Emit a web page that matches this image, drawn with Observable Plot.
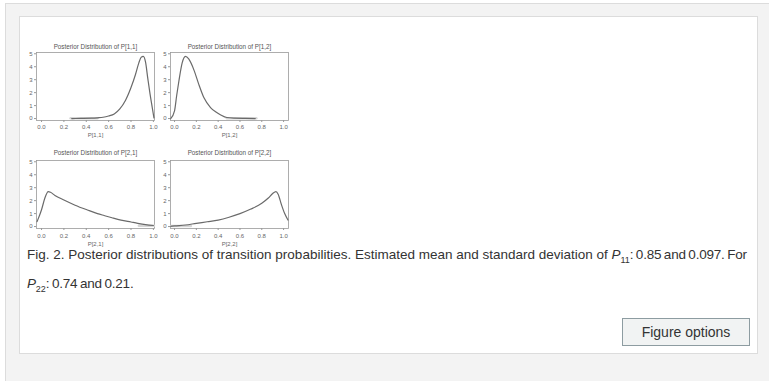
<!DOCTYPE html>
<html><head><meta charset="utf-8">
<script src="https://cdn.jsdelivr.net/npm/d3@7"></script>
<script src="https://cdn.jsdelivr.net/npm/@observablehq/plot@0.6"></script>
<style>
html,body{margin:0;padding:0;background:#fff;width:769px;height:381px;overflow:hidden;font-family:"Liberation Sans",Arial,sans-serif;}
#outer{position:absolute;left:5px;top:3px;width:800px;height:400px;background:#f3f3f3;border:1px solid #dcdcdc;}
#box{position:absolute;left:19px;top:16px;width:737px;height:336px;background:#fff;border:1px solid #dcdcdc;}
.panel{position:absolute;}
#caption{position:absolute;left:27px;top:240px;width:740px;font-size:13.5px;line-height:29px;color:#333;white-space:nowrap;}
#caption .m{letter-spacing:-0.2px;word-spacing:-1px;}
#caption sub{font-size:9px;vertical-align:-4px;line-height:0;letter-spacing:0;}
#btn{position:absolute;left:622px;top:318px;width:126px;height:26px;background:#f1f3f3;border:1px solid #8d9ca1;font-size:14px;color:#333;text-align:center;line-height:26px;}
</style></head><body>
<div id="outer"></div>
<div id="box"></div>
<div id="caption">Fig. 2. Posterior distributions of transition probabilities. Estimated mean and standard deviation of <span class="m"><i>P</i><sub>11</sub>: 0.85 and 0.097. For</span><br><span class="m"><i>P</i><sub>22</sub>: 0.74 and 0.21.</span></div>
<div id="btn">Figure options</div>
<script>
// Panel titles and axis labels
const titles = ["Posterior Distribution of P[1,1]", "Posterior Distribution of P[1,2]", "Posterior Distribution of P[2,1]", "Posterior Distribution of P[2,2]"];
const xLabels = ["P[1,1]", "P[1,2]", "P[2,1]", "P[2,2]"];
const xTicks = [0, 0.2, 0.4, 0.6, 0.8, 1.0];
const yTicks = [0, 1, 2, 3, 4, 5];

// Density curves
const p11X = [0.27, 0.35, 0.45, 0.5, 0.55, 0.6, 0.65, 0.7, 0.75, 0.8, 0.84, 0.87, 0.89, 0.91, 0.93, 0.95, 0.97, 0.99, 1.005];
const p11Y = [0.0, 0.01, 0.03, 0.06, 0.1, 0.2, 0.36, 0.75, 1.4, 2.4, 3.4, 4.3, 4.72, 4.8, 4.35, 3.1, 1.9, 0.85, 0.05];
const p11FaintX = [0.26, 0.5];
const p11FaintY = [0.02, 0.02];

const p12X = [-0.035, 0.0, 0.02, 0.04, 0.07, 0.1, 0.13, 0.18, 0.22, 0.27, 0.33, 0.38, 0.42, 0.48, 0.55, 0.65, 0.74];
const p12Y = [0.0, 0.6, 1.8, 2.9, 4.3, 4.8, 4.6, 3.7, 2.7, 1.6, 0.85, 0.5, 0.3, 0.08, 0.03, 0.01, 0.0];
const p12FaintX = [0.48, 0.75];
const p12FaintY = [0.02, 0.02];

const p21X = [-0.04, 0.0, 0.03, 0.06, 0.08, 0.12, 0.2, 0.3, 0.41, 0.5, 0.56, 0.63, 0.71, 0.8, 0.86, 0.93, 1.0];
const p21Y = [0.38, 1.3, 2.2, 2.7, 2.65, 2.4, 2.05, 1.65, 1.28, 1.0, 0.85, 0.68, 0.5, 0.35, 0.25, 0.15, 0.08];
const p21FaintX = [0.87, 1.005];
const p21FaintY = [0.06, 0.06];

const p22X = [-0.035, 0.0, 0.1, 0.2, 0.3, 0.4, 0.5, 0.6, 0.7, 0.8, 0.86, 0.9, 0.93, 0.95, 0.98, 1.01, 1.04];
const p22Y = [0.02, 0.05, 0.12, 0.25, 0.37, 0.5, 0.72, 1.0, 1.35, 1.8, 2.2, 2.55, 2.7, 2.5, 1.7, 1.0, 0.5];
const p22FaintX = [-0.03, 0.15];
const p22FaintY = [0.04, 0.04];

const curves = [[p11X, p11Y, p11FaintX, p11FaintY], [p12X, p12Y, p12FaintX, p12FaintY], [p21X, p21Y, p21FaintX, p21FaintY], [p22X, p22Y, p22FaintX, p22FaintY]];
const xDomains = [[-0.045, 1.01], [-0.037, 1.045], [-0.045, 1.01], [-0.037, 1.045]];
const positions = [[20, 36], [154, 36], [20, 144], [154, 144]];

curves.forEach(([xs, ys, fx, fy], i) => {
  const line = xs.map((x, j) => ({x, y: ys[j]}));
  const faint = fx.map((x, j) => ({x, y: fy[j]}));
  const bottomRow = i >= 2;
  const chart = Plot.plot({
    width: 140, height: 108,
    marginLeft: 16, marginRight: 6, marginTop: 16, marginBottom: 24,
    style: {fontFamily: "'Liberation Sans', Arial, sans-serif", fontSize: "6px", color: "#666", background: "transparent"},
    x: {domain: xDomains[i]},
    y: {domain: [-0.15, 5.1]},
    marks: [
      Plot.frame({stroke: "#999", strokeWidth: 0.8}),
      Plot.axisX({ticks: xTicks, tickFormat: d3.format(".1f"), tickSize: 2, tickPadding: bottomRow ? 3 : 2, label: null, stroke: "#999", fill: "#666"}),
      Plot.axisY({ticks: yTicks, tickFormat: d3.format("d"), tickSize: 2, tickPadding: 2, label: null, stroke: "#999", fill: "#666"}),
      Plot.lineY(faint, {x: "x", y: "y", stroke: "#d6d6d6", strokeWidth: 2.5}),
      Plot.lineY(line, {x: "x", y: "y", stroke: "#6a6a6a", strokeWidth: 1.2, curve: "monotone-x"}),
      Plot.text([titles[i]], {frameAnchor: "top", dy: bottomRow ? -10 : -8, fill: "#555", fontSize: 6.3}),
      Plot.text([xLabels[i]], {frameAnchor: "bottom", dy: bottomRow ? 17 : 16, fill: "#666", fontSize: 6})
    ]
  });
  chart.classList.add("panel");
  chart.style.left = positions[i][0] + "px";
  chart.style.top = positions[i][1] + "px";
  chart.style.position = "absolute";
  document.body.appendChild(chart);
});
</script>
</body></html>
